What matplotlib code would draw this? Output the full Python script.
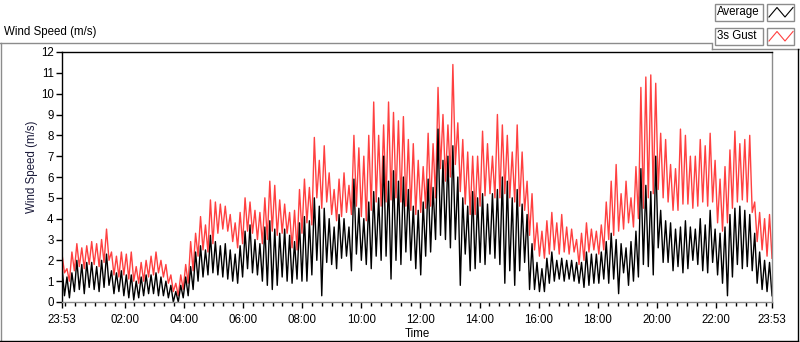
import numpy as np
import matplotlib
matplotlib.use('Agg')
import matplotlib.pyplot as plt
from matplotlib.patches import Rectangle

# 10-minute bins from 23:53, each bin holds a high and a low reading (m/s)
gust_hi = [
    2.3, 1.6, 2.4, 2.8, 2.6, 2.7,   2.9, 2.8, 3.0, 3.5, 2.4, 2.2,
    2.4, 2.3, 2.4, 1.7, 1.9, 2.0,   2.2, 2.4, 2.0, 1.8, 1.3, 0.9,
    1.3, 1.8, 2.9, 3.3, 4.1, 3.7,   4.9, 4.8, 4.7, 4.6, 4.2, 3.8,
    4.3, 5.0, 4.8, 4.4, 4.3, 5.0,   5.8, 5.6, 4.9, 4.7, 4.3, 4.4,
    5.4, 5.9, 5.5, 7.9, 6.8, 7.5,   6.2, 5.4, 5.9, 6.2, 5.6, 8.0,
    7.4, 7.0, 8.0, 9.6, 8.0, 8.5,   9.6, 9.1, 8.7, 8.9, 7.8, 7.6,
    6.8, 6.5, 8.1, 7.6, 10.3, 9.0,  8.5, 11.4, 8.6, 7.8, 7.2, 7.0,
    7.0, 8.2, 7.6, 7.0, 9.0, 8.5,   8.0, 7.2, 8.5, 7.2, 5.8, 5.2,
    3.8, 3.4, 3.9, 4.3, 3.8, 4.2,   3.6, 3.5, 3.0, 3.3, 3.8, 3.5,
    3.4, 3.7, 4.8, 5.8, 6.6, 5.2,   5.8, 5.0, 6.5, 10.3, 10.8, 10.9,
    10.5, 8.1, 7.8, 6.6, 6.4, 8.3,  8.0, 7.0, 7.0, 7.8, 7.5, 8.1,
    6.8, 5.9, 6.5, 7.3, 8.2, 7.6,   7.8, 8.0, 4.8, 4.3, 4.0, 4.2,
]
gust_lo = [
    1.4, 1.0, 1.5, 1.7, 1.6, 1.8,   1.8, 1.7, 1.9, 2.0, 1.3, 1.2,
    1.3, 1.1, 1.0, 0.9, 1.0, 1.2,   1.3, 1.4, 1.2, 0.9, 0.5, 0.3,
    0.6, 0.9, 1.5, 2.2, 2.5, 2.4,   2.8, 3.3, 3.5, 3.4, 2.9, 2.6,
    2.8, 3.4, 3.3, 3.0, 2.8, 3.0,   3.4, 3.2, 3.3, 3.3, 2.6, 2.5,
    3.3, 3.8, 3.7, 5.0, 4.5, 4.8,   4.2, 3.9, 4.1, 4.3, 4.2, 4.6,
    4.1, 3.9, 4.4, 4.8, 4.6, 4.8,   4.9, 5.0, 4.8, 4.6, 4.4, 4.2,
    4.3, 4.5, 4.6, 5.0, 6.4, 5.8,   6.0, 6.6, 5.3, 4.7, 4.2, 4.2,
    4.6, 5.1, 5.2, 5.0, 5.0, 5.2,   5.0, 4.8, 4.6, 4.4, 3.2, 2.5,
    2.2, 2.1, 2.3, 2.5, 2.3, 2.4,   2.3, 2.4, 1.8, 2.0, 2.4, 2.5,
    2.3, 2.5, 3.0, 3.2, 3.4, 3.5,   3.8, 3.6, 4.0, 4.5, 5.0, 5.2,
    5.4, 5.0, 4.8, 4.4, 4.4, 4.7,   4.7, 4.5, 4.6, 4.8, 4.6, 4.8,
    3.8, 3.4, 3.8, 4.5, 4.8, 4.9,   4.8, 4.3, 2.9, 2.5, 2.2, 2.1,
]
avg_hi = [
    1.7, 1.2, 1.4, 2.0, 1.8, 1.9,   1.9, 1.7, 2.0, 2.3, 1.5, 1.4,
    1.5, 1.3, 1.3, 1.0, 1.2, 1.3,   1.3, 1.4, 1.2, 1.0, 0.8, 0.5,
    0.8, 1.2, 1.7, 2.4, 2.7, 2.5,   3.2, 2.9, 2.7, 2.8, 2.5, 2.3,
    2.7, 3.4, 3.7, 3.0, 2.8, 3.6,   3.9, 3.5, 3.3, 3.5, 3.2, 2.9,
    3.8, 4.1, 3.9, 5.0, 4.6, 4.5,   4.0, 3.6, 4.2, 4.0, 3.6, 5.9,
    4.5, 4.0, 4.8, 5.3, 5.0, 7.0,   5.8, 6.3, 5.8, 6.0, 5.4, 4.6,
    4.4, 4.8, 5.9, 5.5, 8.3, 6.8,   7.0, 7.5, 6.0, 5.0, 4.6, 5.3,
    5.0, 5.2, 4.7, 5.2, 5.4, 6.0,   5.8, 5.0, 5.4, 4.7, 4.2, 2.8,
    1.9, 1.6, 2.1, 2.4, 2.0, 2.1,   2.0, 2.0, 1.9, 1.9, 2.4, 2.3,
    2.3, 2.4, 2.9, 3.3, 3.0, 2.8,   2.6, 2.9, 3.4, 6.4, 5.6, 5.3,
    7.0, 4.4, 3.9, 3.8, 3.5, 3.6,   3.9, 3.6, 3.5, 4.0, 3.7, 4.4,
    3.5, 3.3, 3.6, 4.2, 4.5, 4.6,   4.4, 4.2, 3.3, 2.4, 2.0, 1.9,
]
avg_lo = [
    0.3, 0.2, 0.5, 0.6, 0.4, 0.7,   0.6, 0.5, 0.7, 0.8, 0.4, 0.5,
    0.3, 0.2, 0.1, 0.2, 0.3, 0.4,   0.4, 0.3, 0.3, 0.2, 0.0, 0.0,
    0.2, 0.3, 0.6, 1.0, 1.2, 1.3,   1.4, 1.3, 1.2, 1.1, 1.0, 0.9,
    1.2, 1.6, 1.4, 1.3, 1.0, 0.8,   0.6, 0.8, 1.2, 1.0, 0.9, 1.1,
    1.0, 1.0, 1.3, 2.0, 0.3, 1.9,   1.8, 1.6, 2.1, 2.2, 1.5, 2.3,
    2.0, 1.8, 1.6, 2.2, 2.0, 2.2,   1.1, 2.0, 1.8, 2.4, 2.0, 1.6,
    1.3, 2.2, 2.4, 3.0, 3.2, 3.0,   2.6, 3.0, 0.8, 2.3, 1.5, 1.6,
    1.9, 1.8, 2.3, 2.1, 1.8, 0.9,   1.5, 0.8, 1.5, 1.9, 0.6, 0.6,
    0.5, 0.5, 0.9, 1.0, 1.1, 1.0,   1.1, 1.0, 0.9, 0.7, 0.8, 0.9,
    0.9, 1.1, 0.9, 1.1, 0.4, 1.4,   0.8, 1.0, 1.2, 1.8, 1.7, 1.3,
    2.6, 1.9, 1.9, 1.5, 1.7, 1.4,   1.6, 2.0, 1.8, 1.5, 1.4, 1.9,
    1.3, 0.9, 0.3, 1.2, 1.8, 1.6,   1.7, 1.5, 0.9, 0.6, 0.5, 0.3,
]

tick_labels = ['23:53', '02:00', '04:00', '06:00', '08:00', '10:00', '12:00',
               '14:00', '16:00', '18:00', '20:00', '22:00', '23:53']

plt.rcParams['font.family'] = ['Liberation Sans', 'DejaVu Sans']
plt.rcParams['font.size'] = 8.3


def zigzag(hi, lo):
    out = np.empty(2 * len(hi))
    out[0::2] = hi
    out[1::2] = lo
    return out


gust = zigzag(gust_hi, gust_lo)
avg = zigzag(avg_hi, avg_lo)
hours = np.linspace(0, 24, len(gust))  # hours since 23:53

fig = plt.figure(figsize=(8, 3.42), dpi=100)
fig.patch.set_facecolor('white')

# frame / legend decorations in pixel coordinates
deco = fig.add_axes([0, 0, 1, 1], zorder=0)
deco.set_xlim(0, 800)
deco.set_ylim(342, 0)
deco.axis('off')
gray = '#8c8c8c'
deco.plot([0, 711], [42.5, 42.5], color=gray, lw=1)
deco.plot([711.5, 711.5], [42.5, 49], color=gray, lw=1)
deco.plot([711.5, 800], [49, 49], color=gray, lw=1)
deco.plot([1, 1], [42.5, 342], color=gray, lw=1)
deco.plot([0, 798], [341, 341], color='black', lw=1)
deco.plot([798, 798], [49, 341], color='black', lw=1)
deco.text(4, 32, 'Wind Speed (m/s)', va='center', ha='left')

for y0, name, col in [(3.5, 'Average', 'black'), (27.5, '3s Gust', '#ff4040')]:
    deco.add_patch(Rectangle((715, y0), 48, 17, fill=False, ec=gray, lw=1))
    deco.add_patch(Rectangle((767, y0), 27, 17, fill=False, ec=gray, lw=1))
    deco.text(717, y0 + 8.8, name, va='center', ha='left')
    deco.plot([769, 777, 785, 793], [y0 + 13.5, y0 + 4, y0 + 13.5, y0 + 4], color=col, lw=0.8)

ax = fig.add_axes([62 / 800, 1 - 302 / 342, 710 / 800, 250 / 342], zorder=1)
ax.plot(hours, gust, color='#ff4040', lw=1.0)
ax.plot(hours, avg, color='black', lw=1.0)

ax.set_xlim(0, 24)
ax.set_ylim(0, 12)
ax.set_yticks(range(0, 13))
major = [0] + [2 + 7 / 60 + 2 * k for k in range(11)] + [24]
ax.set_xticks(major)
ax.set_xticklabels(tick_labels)
ax.set_xticks([7 / 60 + k / 3 for k in range(72)], minor=True)
ax.tick_params(axis='y', length=4, width=1, pad=2, colors='black')
ax.tick_params(axis='x', which='major', length=4.5, width=1, pad=4)
ax.tick_params(axis='x', which='minor', length=3, width=1)

ax.spines['left'].set_color('black')
ax.spines['top'].set_color('black')
ax.spines['right'].set_color(gray)
ax.spines['bottom'].set_color(gray)
for s in ax.spines.values():
    s.set_linewidth(1)

ax.set_ylabel('Wind Speed (m/s)', color='#1a1a3a')
ax.yaxis.set_label_coords(-0.034, 0.54)
ax.set_xlabel('Time')
ax.xaxis.set_label_coords(0.5, -0.105)

fig.savefig('out.png', dpi=100)
